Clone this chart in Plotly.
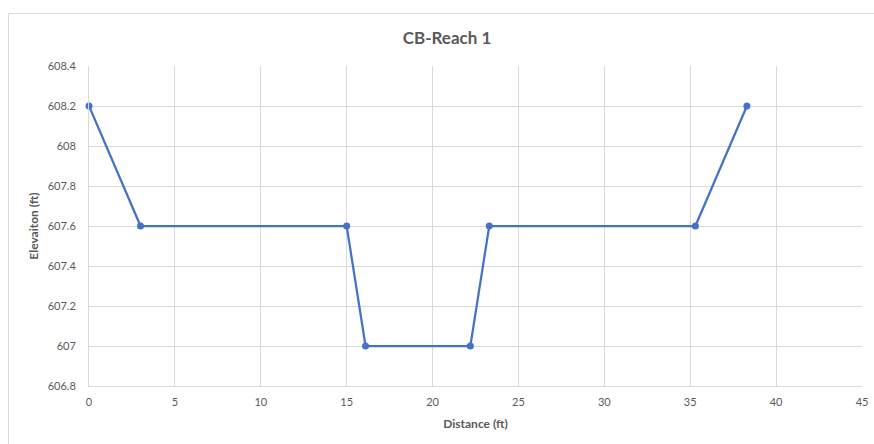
import plotly.graph_objects as go

distance = [0, 3, 15, 16.1, 22.2, 23.3, 35.3, 38.3]
elevation = [608.2, 607.6, 607.6, 607.0, 607.0, 607.6, 607.6, 608.2]
x_ticks = [0, 5, 10, 15, 20, 25, 30, 35, 40, 45]
y_ticks = [606.8, 607.0, 607.2, 607.4, 607.6, 607.8, 608.0, 608.2, 608.4]
y_tick_text = ["606.8", "607", "607.2", "607.4", "607.6", "607.8", "608", "608.2", "608.4"]

W, H = 874, 444
L, R, T, B = 89, 874 - 862, 66, 444 - 386
pw, ph = W - L - R, H - T - B

def px(xp):
    return (xp - L) / pw

def py(yp):
    return (H - B - yp) / ph

fig = go.Figure()
fig.add_trace(go.Scatter(
    x=distance, y=elevation, mode="lines+markers",
    line=dict(color="#4472C4", width=2.25),
    marker=dict(color="#4472C4", size=7),
    showlegend=False, hoverinfo="skip", cliponaxis=False,
))

font_family = "Lato, Open Sans, sans-serif"
fig.update_layout(
    width=W, height=H,
    margin=dict(l=L, r=R, t=T, b=B, autoexpand=False),
    paper_bgcolor="white", plot_bgcolor="white",
    title=dict(text="<b>CB-Reach 1</b>", x=447 / W, xanchor="center",
               y=1 - 38 / H, yanchor="middle",
               font=dict(family=font_family, size=17, color="#595959")),
    xaxis=dict(range=[0, 45], tickvals=x_ticks, showgrid=True, gridcolor="#D9D9D9",
               gridwidth=1, zeroline=False, showline=True, linecolor="#D9D9D9",
               ticks="", ticklabelstandoff=6, ticklabeloverflow="allow",
               tickfont=dict(family=font_family, size=11, color="#595959"),
               title=dict(text="<b>Distance (ft)</b>", standoff=12,
                          font=dict(family=font_family, size=12, color="#595959"))),
    yaxis=dict(range=[606.8, 608.4], tickvals=y_ticks, ticktext=y_tick_text,
               showgrid=True, gridcolor="#D9D9D9", gridwidth=1, zeroline=False,
               showline=True, linecolor="#D9D9D9", ticks="", ticklabelstandoff=10,
               tickfont=dict(family=font_family, size=11, color="#595959"),
               title=dict(text="<b>Elevaiton (ft)</b>", standoff=6,
                          font=dict(family=font_family, size=12, color="#595959"))),
)

# outer chart frame (partially outside the window)
fig.add_shape(type="rect", xref="paper", yref="paper",
              x0=px(8.5), x1=px(900), y0=py(470), y1=py(13.5),
              line=dict(color="#D9D9D9", width=1), fillcolor="rgba(0,0,0,0)", layer="below")

fig.write_html(
    "out.html",
    config={"displayModeBar": False},
    post_script="document.body.style.margin='0';document.body.style.overflow='hidden';",
)
